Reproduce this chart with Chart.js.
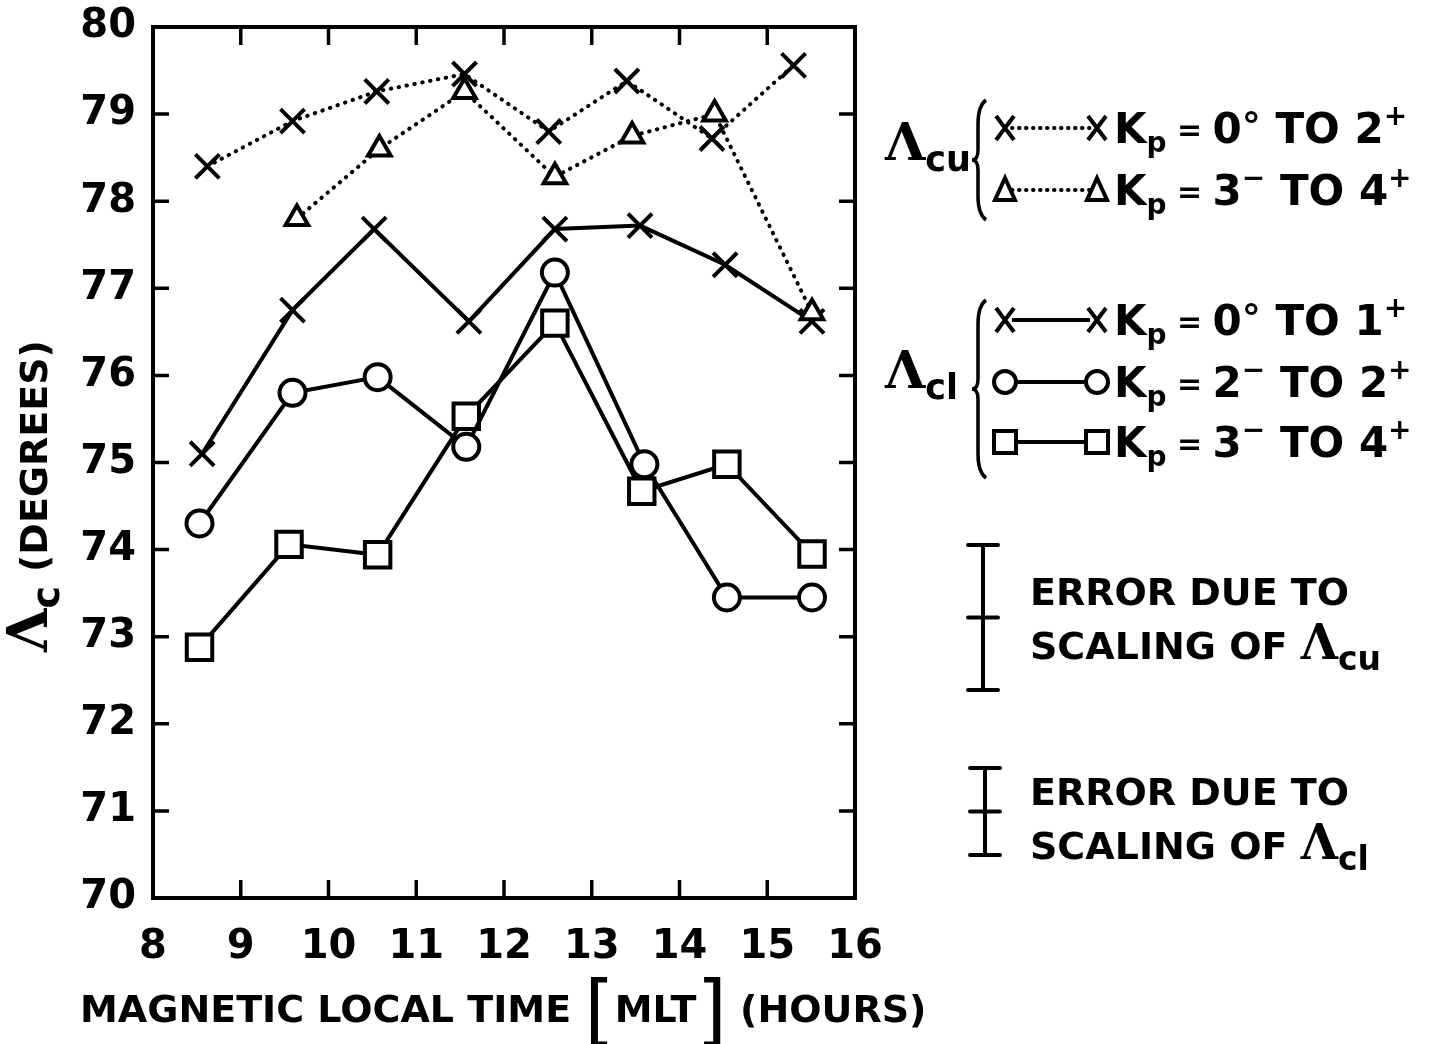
<!DOCTYPE html>
<html>
<head>
<meta charset="utf-8">
<script src="https://cdn.jsdelivr.net/npm/chart.js@4.4.1/dist/chart.umd.min.js"></script>
<style>
  body { margin: 0; background: #fff; }
  #wrap { width: 1430px; height: 1044px; }
</style>
</head>
<body>
<div id="wrap"><canvas id="lat"></canvas></div>
<script>
// upper cusp boundary (dotted)
const hoursCuA = [8.62, 9.59, 10.55, 11.55, 12.51, 13.4, 14.37, 15.3];
const cuKp0to2 = [78.4, 78.92, 79.26, 79.46, 78.8, 79.38, 78.72, 79.56];
const hoursCuB = [9.64, 10.58, 11.55, 12.58, 13.46, 14.4, 15.51];
const cuKp3to4 = [77.8, 78.6, 79.26, 78.28, 78.75, 79.0, 76.72];

// lower cusp boundary (solid)
const hoursClA = [8.56, 9.59, 10.52, 11.6, 12.58, 13.55, 14.52, 15.51];
const clKp0to1 = [75.1, 76.75, 77.68, 76.62, 77.68, 77.72, 77.27, 76.62];
const hoursClB = [8.53, 9.59, 10.56, 11.57, 12.58, 13.6, 14.54, 15.51];
const clKp2to2 = [74.3, 75.8, 75.98, 75.18, 77.18, 74.98, 73.45, 73.45];
const hoursClC = [8.53, 9.55, 10.56, 11.57, 12.58, 13.57, 14.54, 15.51];
const clKp3to4 = [72.88, 74.06, 73.94, 75.53, 76.6, 74.67, 74.98, 73.95];

const xTicks = [8, 9, 10, 11, 12, 13, 14, 15, 16];
const yTicks = [70, 71, 72, 73, 74, 75, 76, 77, 78, 79, 80];

const SANS = 'DejaVu Sans';
const SERIF = 'DejaVu Serif';

function pts(xs, ys) {
  return xs.map((h, i) => ({ x: h, y: ys[i] }));
}

function series(label, xs, ys, style, radius, dotted) {
  return {
    label: label,
    data: pts(xs, ys),
    borderColor: '#000',
    borderWidth: 4,
    borderDash: dotted ? [0.5, 7.5] : [],
    borderCapStyle: dotted ? 'round' : 'butt',
    pointStyle: style,
    pointRadius: radius,
    pointBorderWidth: 4,
    pointBackgroundColor: '#fff',
    pointBorderColor: '#000',
    tension: 0
  };
}

// Lambda with a subscript, used in titles and legend
function lambda(ctx, x, y, sub, size) {
  ctx.font = 'bold ' + size + 'px ' + SERIF;
  ctx.fillText('Λ', x, y);
  let w = ctx.measureText('Λ').width;
  ctx.font = 'bold ' + Math.round(size * 0.68) + 'px ' + SANS;
  ctx.fillText(sub, x + w, y + size * 0.22);
  return w + ctx.measureText(sub).width;
}

// "Kp = a TO b" with subscript p and superscript marks
function kpText(ctx, x, y, a, aSup, b, bSup) {
  let cx = x;
  const put = (t, f, dy) => {
    ctx.font = f;
    ctx.fillText(t, cx, y + dy);
    cx += ctx.measureText(t).width;
  };
  const big = 'bold 42px ' + SANS;
  const small = 'bold 28px ' + SANS;
  put('K', big, 0);
  put('p', small, 9);
  put(' = ', 'bold 30px ' + SANS, -3);
  put(a, big, 0);
  put(aSup, aSup === '°' ? 'bold 38px ' + SANS : small, aSup === '°' ? -4 : -18);
  put(' TO ', big, 0);
  put(b, big, 0);
  put(bSup, small, -18);
}

function marker(ctx, style, x, y) {
  ctx.beginPath();
  if (style === 'x') {
    ctx.moveTo(x - 9, y - 12); ctx.lineTo(x + 9, y + 12);
    ctx.moveTo(x + 9, y - 12); ctx.lineTo(x - 9, y + 12);
  } else if (style === 'tri') {
    ctx.moveTo(x, y - 12); ctx.lineTo(x + 10, y + 10); ctx.lineTo(x - 10, y + 10); ctx.closePath();
  } else if (style === 'circ') {
    ctx.arc(x, y, 11, 0, Math.PI * 2);
  } else {
    ctx.rect(x - 11, y - 11, 22, 22);
  }
  ctx.fillStyle = '#fff';
  if (style !== 'x') ctx.fill();
  ctx.stroke();
  ctx.fillStyle = '#000';
}

function legendRow(ctx, y, style, dotted, a, aSup, b, bSup) {
  ctx.lineWidth = 4;
  ctx.setLineDash(dotted ? [0.5, 6.5] : []);
  ctx.lineCap = dotted ? 'round' : 'butt';
  ctx.beginPath();
  ctx.moveTo(1012, y); ctx.lineTo(1090, y);
  ctx.stroke();
  ctx.setLineDash([]);
  ctx.lineCap = 'butt';
  marker(ctx, style, 1005, y);
  marker(ctx, style, 1097, y);
  kpText(ctx, 1114, y + 15, a, aSup, b, bSup);
}

function brace(ctx, x, y0, y1) {
  const m = (y0 + y1) / 2;
  ctx.lineWidth = 3.5;
  ctx.beginPath();
  ctx.moveTo(x + 8, y0);
  ctx.quadraticCurveTo(x, y0 + 6, x, y0 + 24);
  ctx.lineTo(x, m - 10);
  ctx.quadraticCurveTo(x, m, x - 6, m);
  ctx.quadraticCurveTo(x, m, x, m + 10);
  ctx.lineTo(x, y1 - 24);
  ctx.quadraticCurveTo(x, y1 - 6, x + 8, y1);
  ctx.stroke();
}

function errBar(ctx, x, y0, y1) {
  const m = (y0 + y1) / 2;
  ctx.lineWidth = 4;
  ctx.lineCap = 'round';
  ctx.beginPath();
  ctx.moveTo(x, y0); ctx.lineTo(x, y1);
  [y0, m, y1].forEach(v => { ctx.moveTo(x - 15, v); ctx.lineTo(x + 15, v); });
  ctx.stroke();
  ctx.lineCap = 'butt';
}

const decor = {
  id: 'decor',
  afterDraw(chart) {
    const { ctx, chartArea: a, scales } = chart;
    const xs = scales.x, ys = scales.y;
    ctx.save();
    ctx.strokeStyle = '#000';
    ctx.fillStyle = '#000';
    ctx.lineWidth = 4;
    ctx.strokeRect(a.left, a.top, a.right - a.left, a.bottom - a.top);

    // inward ticks on all four sides
    ctx.lineWidth = 3.5;
    ctx.beginPath();
    yTicks.slice(1, -1).forEach(v => {
      const p = ys.getPixelForValue(v);
      ctx.moveTo(a.left, p); ctx.lineTo(a.left + 16, p);
      ctx.moveTo(a.right, p); ctx.lineTo(a.right - 16, p);
    });
    xTicks.slice(1, -1).forEach(v => {
      const p = xs.getPixelForValue(v);
      ctx.moveTo(p, a.bottom); ctx.lineTo(p, a.bottom - 18);
      ctx.moveTo(p, a.top); ctx.lineTo(p, a.top + 18);
    });
    ctx.stroke();

    // y axis title
    ctx.save();
    ctx.translate(47, 652);
    ctx.rotate(-Math.PI / 2);
    ctx.textBaseline = 'alphabetic';
    const lw = lambda(ctx, 0, 0, 'c', 56);
    ctx.font = 'bold 38px ' + SANS;
    ctx.fillText('(DEGREES)', lw + 14, 0);
    ctx.restore();

    // x axis title
    let cx = 80;
    const by = 1022;
    const word = (t) => {
      ctx.font = 'bold 38px ' + SANS;
      ctx.fillText(t, cx, by);
      cx += ctx.measureText(t).width;
    };
    const bracket = (t) => {
      ctx.font = '78px ' + SANS;
      ctx.fillText(t, cx, by + 15);
      cx += ctx.measureText(t).width;
    };
    word('MAGNETIC LOCAL TIME ');
    bracket('[');
    word('MLT');
    bracket(']');
    word(' (HOURS)');

    // legend: upper cusp boundary
    lambda(ctx, 885, 160, 'cu', 52);
    brace(ctx, 978, 100, 220);
    legendRow(ctx, 128, 'x', true, '0', '°', '2', '+');
    legendRow(ctx, 190, 'tri', true, '3', '−', '4', '+');

    // legend: lower cusp boundary
    lambda(ctx, 885, 388, 'cl', 52);
    brace(ctx, 978, 300, 478);
    legendRow(ctx, 320, 'x', false, '0', '°', '1', '+');
    legendRow(ctx, 382, 'circ', false, '2', '−', '2', '+');
    legendRow(ctx, 442, 'sq', false, '3', '−', '4', '+');

    // error bars
    errBar(ctx, 983, 545, 690);
    ctx.font = 'bold 38px ' + SANS;
    ctx.fillText('ERROR DUE TO', 1030, 605);
    ctx.fillText('SCALING OF ', 1030, 659);
    lambda(ctx, 1030 + ctx.measureText('SCALING OF ').width, 659, 'cu', 48);

    errBar(ctx, 985, 768, 855);
    ctx.font = 'bold 38px ' + SANS;
    ctx.fillText('ERROR DUE TO', 1030, 805);
    ctx.fillText('SCALING OF ', 1030, 859);
    lambda(ctx, 1030 + ctx.measureText('SCALING OF ').width, 859, 'cl', 48);

    ctx.restore();
  }
};

new Chart(document.getElementById('lat'), {
  type: 'line',
  data: {
    datasets: [
      series('Λcu Kp = 0° TO 2+', hoursCuA, cuKp0to2, 'crossRot', 17, true),
      series('Λcu Kp = 3- TO 4+', hoursCuB, cuKp3to4, 'triangle', 13, true),
      series('Λcl Kp = 0° TO 1+', hoursClA, clKp0to1, 'crossRot', 17, false),
      series('Λcl Kp = 2- TO 2+', hoursClB, clKp2to2, 'circle', 13, false),
      series('Λcl Kp = 3- TO 4+', hoursClC, clKp3to4, 'rect', 18, false)
    ]
  },
  options: {
    responsive: true,
    maintainAspectRatio: false,
    animation: false,
    layout: { padding: { left: 0, top: 27, right: 575, bottom: 76 } },
    plugins: {
      legend: { display: false },
      tooltip: { enabled: false }
    },
    scales: {
      x: {
        type: 'linear',
        min: 8,
        max: 16,
        afterFit: s => { s.height = 70; s.paddingLeft = 0; s.paddingRight = 0; },
        afterBuildTicks: s => { s.ticks = xTicks.map(v => ({ value: v })); },
        grid: { display: false },
        border: { display: false },
        ticks: {
          color: '#000',
          padding: 18,
          font: { family: SANS, weight: 'bold', size: 40 }
        }
      },
      y: {
        min: 70,
        max: 80,
        afterFit: s => { s.width = 153; s.paddingTop = 0; s.paddingBottom = 0; },
        afterBuildTicks: s => { s.ticks = yTicks.map(v => ({ value: v })); },
        grid: { display: false },
        border: { display: false },
        ticks: {
          color: '#000',
          padding: 9,
          font: { family: SANS, weight: 'bold', size: 40 }
        }
      }
    }
  },
  plugins: [decor]
});
</script>
</body>
</html>
